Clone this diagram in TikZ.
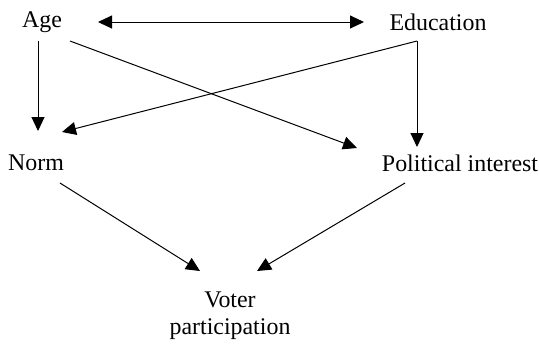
\documentclass[tikz,border=0pt]{standalone}
\usepackage{fontspec}
\setmainfont{Liberation Serif}
\usetikzlibrary{arrows.meta,calc}

\begin{document}
\begin{tikzpicture}
[x=0.5bp, y=-0.5bp,
 nodes={inner sep=0pt, font=\fontsize{12pt}{13.5pt}\selectfont, align=center},
 >={Triangle[length=7bp, width=6.5bp]}, line width=0.5bp]
\useasboundingbox (0,0) rectangle (539,346);

\node (Age) at (42,22) {Age};
\node (Education) at (438,22) {Education};
\node (Norm) at (36,163) {Norm};
\node (Interest) at (460,163) {Political interest};
\node (Voter) at (230,316) {Voter\\participation};

\draw[<->] ($(Age)+(56,0)$) -- ($(Education)+(-74,0)$);
\draw[->] ($(Age)+(-4,19)$) -- ($(Norm)+(2,-32)$);
\draw[->] ($(Age)+(28,19)$) -- ($(Interest)+(-103,-15)$);
\draw[->] ($(Education)+(-21,19)$) -- ($(Norm)+(26,-31)$);
\draw[->] ($(Education)+(-21,19)$) -- ($(Interest)+(-43,-16)$);

\draw[->] ($(Norm)+(24,20)$) -- ($(Voter)+(-30,-45)$);
\draw[->] ($(Interest)+(-55,20)$) -- ($(Voter)+(27,-45)$);
\end{tikzpicture}
\end{document}
